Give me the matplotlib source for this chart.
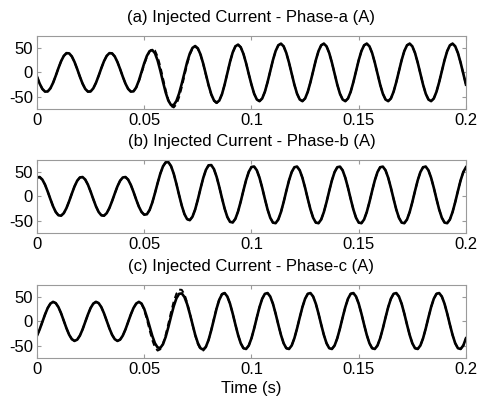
import numpy as np
import matplotlib
matplotlib.use("Agg")
import matplotlib.pyplot as plt

plt.rcParams['font.family'] = ['Liberation Sans', 'DejaVu Sans']

# time grid (s), one sample every 1.25 ms from 0 to 0.2 s
dt = 0.00125
n_samples = 161

# Phase-a injected current (A): measured (solid) and reference (dashed)
ia_meas = [
    -8.7, -23.0, -33.8, -39.4, -39.0, -32.7, -21.4, -6.9, 8.7, 23.0, 33.8, 39.4, 39.0, 32.7, 21.4, 6.9,
    -8.7, -23.0, -33.8, -39.4, -39.0, -32.7, -21.4, -6.9, 8.7, 23.0, 33.8, 39.4, 39.0, 32.7, 21.4, 6.9,
    -8.7, -23.0, -33.8, -39.4, -38.8, -30.8, -16.8, 0.8, 18.8, 33.9, 43.5, 45.8, 39.3, 24.4, 3.8, -19.3,
    -41.1, -57.9, -66.9, -66.9, -58.6, -43.3, -23.1, -0.7, 20.9, 38.6, 50.2, 54.0, 49.3, 36.7, 18.0, -4.0,
    -26.0, -44.7, -57.3, -62.0, -57.7, -44.6, -24.8, -1.5, 21.6, 40.9, 53.4, 56.9, 51.5, 38.0, 18.7, -3.7,
    -25.1, -43.7, -55.5, -58.9, -53.4, -39.7, -20.0, 2.8, 25.1, 43.7, 55.5, 58.9, 53.4, 39.7, 20.0, -2.8,
    -25.1, -43.7, -55.5, -58.9, -53.4, -39.7, -20.0, 2.8, 25.1, 43.7, 55.5, 58.9, 53.4, 39.7, 20.0, -2.8,
    -25.1, -43.7, -55.5, -58.9, -53.4, -39.7, -20.0, 2.8, 25.1, 43.7, 55.5, 58.9, 53.4, 39.7, 20.0, -2.8,
    -25.1, -43.7, -55.5, -58.9, -53.4, -39.7, -20.0, 2.8, 25.1, 43.7, 55.5, 58.9, 53.4, 39.7, 20.0, -2.8,
    -25.1, -43.7, -55.5, -58.9, -53.4, -39.7, -20.0, 2.8, 25.1, 43.7, 55.5, 58.9, 53.4, 39.7, 20.0, -2.8,
    -25.1,
]
ia_ref = [
    -8.7, -23.0, -33.8, -39.4, -39.0, -32.7, -21.4, -6.9, 8.7, 23.0, 33.8, 39.4, 39.0, 32.7, 21.4, 6.9,
    -8.7, -23.0, -33.8, -39.4, -39.0, -32.7, -21.4, -6.9, 8.7, 23.0, 33.8, 39.4, 39.0, 32.7, 21.4, 6.9,
    -8.7, -23.0, -33.8, -39.4, -38.9, -31.5, -18.4, -1.7, 16.0, 31.6, 42.9, 47.9, 44.8, 32.2, 12.1, -12.0,
    -36.1, -56.2, -68.8, -71.8, -65.4, -50.9, -30.3, -6.6, 16.6, 36.0, 48.8, 53.0, 48.3, 35.7, 17.0, -5.0,
    -27.0, -45.7, -58.3, -63.0, -57.7, -44.6, -24.8, -1.5, 21.6, 40.9, 53.4, 56.9, 51.5, 38.0, 18.7, -3.7,
    -25.1, -43.7, -55.5, -58.9, -53.4, -39.7, -20.0, 2.8, 25.1, 43.7, 55.5, 58.9, 53.4, 39.7, 20.0, -2.8,
    -25.1, -43.7, -55.5, -58.9, -53.4, -39.7, -20.0, 2.8, 25.1, 43.7, 55.5, 58.9, 53.4, 39.7, 20.0, -2.8,
    -25.1, -43.7, -55.5, -58.9, -53.4, -39.7, -20.0, 2.8, 25.1, 43.7, 55.5, 58.9, 53.4, 39.7, 20.0, -2.8,
    -25.1, -43.7, -55.5, -58.9, -53.4, -39.7, -20.0, 2.8, 25.1, 43.7, 55.5, 58.9, 53.4, 39.7, 20.0, -2.8,
    -25.1, -43.7, -55.5, -58.9, -53.4, -39.7, -20.0, 2.8, 25.1, 43.7, 55.5, 58.9, 53.4, 39.7, 20.0, -2.8,
    -25.1,
]

# Phase-b injected current (A)
ib_meas = [
    38.7, 39.6, 34.4, 24.0, 9.9, -5.6, -20.4, -32.0, -38.7, -39.6, -34.4, -24.0, -9.9, 5.6, 20.4, 32.0,
    38.7, 39.6, 34.4, 24.0, 9.9, -5.6, -20.4, -32.0, -38.7, -39.6, -34.4, -24.0, -9.9, 5.6, 20.4, 32.0,
    38.7, 39.6, 34.3, 23.5, 9.2, -6.5, -21.0, -31.9, -37.5, -36.6, -28.0, -12.9, 6.5, 27.3, 46.6, 61.5,
    69.7, 70.2, 62.0, 46.5, 25.6, 2.8, -19.0, -36.3, -46.7, -48.7, -41.6, -26.8, -6.5, 16.2, 37.5, 54.2,
    63.6, 64.1, 55.9, 40.1, 19.3, -3.7, -25.3, -42.3, -52.2, -53.4, -45.9, -30.8, -10.4, 12.2, 33.5, 50.4,
    60.2, 60.9, 53.4, 38.1, 17.6, -5.2, -26.8, -43.8, -53.7, -54.9, -47.4, -32.1, -11.6, 11.2, 32.8, 49.8,
    59.7, 60.9, 53.4, 38.1, 17.6, -5.2, -26.8, -43.8, -53.7, -54.9, -47.4, -32.1, -11.6, 11.2, 32.8, 49.8,
    59.7, 60.9, 53.4, 38.1, 17.6, -5.2, -26.8, -43.8, -53.7, -54.9, -47.4, -32.1, -11.6, 11.2, 32.8, 49.8,
    59.7, 60.9, 53.4, 38.1, 17.6, -5.2, -26.8, -43.8, -53.7, -54.9, -47.4, -32.1, -11.6, 11.2, 32.8, 49.8,
    59.7, 60.9, 53.4, 38.1, 17.6, -5.2, -26.8, -43.8, -53.7, -54.9, -47.4, -32.1, -11.6, 11.2, 32.8, 49.8,
    59.7,
]
ib_ref = [
    38.7, 39.6, 34.4, 24.0, 9.9, -5.6, -20.4, -32.0, -38.7, -39.6, -34.4, -24.0, -9.9, 5.6, 20.4, 32.0,
    38.7, 39.6, 34.4, 24.0, 9.9, -5.6, -20.4, -32.0, -38.7, -39.6, -34.4, -24.0, -9.9, 5.6, 20.4, 32.0,
    38.7, 39.6, 34.3, 23.5, 9.2, -6.5, -21.0, -31.9, -37.5, -36.6, -28.0, -12.9, 6.5, 27.3, 46.6, 61.5,
    69.7, 70.2, 62.0, 46.5, 25.6, 2.8, -19.0, -36.3, -46.7, -48.7, -41.6, -26.8, -6.5, 16.2, 37.5, 54.2,
    63.6, 64.1, 55.9, 40.1, 19.3, -3.7, -25.3, -42.3, -52.2, -53.4, -45.9, -30.8, -10.4, 12.2, 33.5, 50.4,
    60.2, 60.9, 53.4, 38.1, 17.6, -5.2, -26.8, -43.8, -53.7, -54.9, -47.4, -32.1, -11.6, 11.2, 32.8, 49.8,
    59.7, 60.9, 53.4, 38.1, 17.6, -5.2, -26.8, -43.8, -53.7, -54.9, -47.4, -32.1, -11.6, 11.2, 32.8, 49.8,
    59.7, 60.9, 53.4, 38.1, 17.6, -5.2, -26.8, -43.8, -53.7, -54.9, -47.4, -32.1, -11.6, 11.2, 32.8, 49.8,
    59.7, 60.9, 53.4, 38.1, 17.6, -5.2, -26.8, -43.8, -53.7, -54.9, -47.4, -32.1, -11.6, 11.2, 32.8, 49.8,
    59.7, 60.9, 53.4, 38.1, 17.6, -5.2, -26.8, -43.8, -53.7, -54.9, -47.4, -32.1, -11.6, 11.2, 32.8, 49.8,
    59.7,
]

# Phase-c injected current (A)
ic_meas = [
    -29.2, -16.5, -1.3, 14.1, 27.4, 36.4, 40.0, 37.4, 29.2, 16.5, 1.3, -14.1, -27.4, -36.4, -40.0, -37.4,
    -29.2, -16.5, -1.3, 14.1, 27.4, 36.4, 40.0, 37.4, 29.2, 16.5, 1.3, -14.1, -27.4, -36.4, -40.0, -37.4,
    -29.2, -16.5, -1.3, 14.1, 27.4, 36.4, 40.0, 36.5, 25.5, 8.8, -10.6, -29.6, -44.8, -53.5, -54.3, -46.7,
    -31.7, -11.7, 10.3, 31.0, 47.2, 56.4, 57.3, 49.9, 35.4, 15.7, -6.1, -27.2, -44.3, -55.0, -57.9, -52.0,
    -38.0, -18.1, 4.6, 26.6, 44.4, 55.4, 58.0, 50.9, 36.2, 16.0, -6.5, -27.8, -44.9, -55.0, -56.5, -49.4,
    -34.6, -14.5, 8.0, 29.3, 46.4, 56.5, 58.0, 50.9, 36.2, 16.0, -6.5, -27.8, -44.9, -55.0, -56.5, -49.4,
    -34.6, -14.5, 8.0, 29.3, 46.4, 56.5, 58.0, 50.9, 36.2, 16.0, -6.5, -27.8, -44.9, -55.0, -56.5, -49.4,
    -34.6, -14.5, 8.0, 29.3, 46.4, 56.5, 58.0, 50.9, 36.2, 16.0, -6.5, -27.8, -44.9, -55.0, -56.5, -49.4,
    -34.6, -14.5, 8.0, 29.3, 46.4, 56.5, 58.0, 50.9, 36.2, 16.0, -6.5, -27.8, -44.9, -55.0, -56.5, -49.4,
    -34.6, -14.5, 8.0, 29.3, 46.4, 56.5, 58.0, 50.9, 36.2, 16.0, -6.5, -27.8, -44.9, -55.0, -56.5, -49.4,
    -34.6,
]
ic_ref = [
    -29.2, -16.5, -1.3, 14.1, 27.4, 36.4, 40.0, 37.4, 29.2, 16.5, 1.3, -14.1, -27.4, -36.4, -40.0, -37.4,
    -29.2, -16.5, -1.3, 14.1, 27.4, 36.4, 40.0, 37.4, 29.2, 16.5, 1.3, -14.1, -27.4, -36.4, -40.0, -37.4,
    -29.2, -16.5, -1.3, 14.1, 27.4, 36.4, 40.0, 35.9, 23.1, 4.0, -17.9, -38.3, -53.2, -59.8, -57.1, -45.8,
    -27.4, -4.7, 19.2, 40.7, 56.7, 65.1, 64.6, 55.4, 38.8, 17.2, -6.5, -28.8, -46.6, -57.4, -59.7, -53.0,
    -38.1, -17.5, 5.8, 28.0, 45.8, 56.4, 58.0, 50.9, 36.2, 16.0, -6.5, -27.8, -44.9, -55.0, -56.5, -49.4,
    -34.6, -14.5, 8.0, 29.3, 46.4, 56.5, 58.0, 50.9, 36.2, 16.0, -6.5, -27.8, -44.9, -55.0, -56.5, -49.4,
    -34.6, -14.5, 8.0, 29.3, 46.4, 56.5, 58.0, 50.9, 36.2, 16.0, -6.5, -27.8, -44.9, -55.0, -56.5, -49.4,
    -34.6, -14.5, 8.0, 29.3, 46.4, 56.5, 58.0, 50.9, 36.2, 16.0, -6.5, -27.8, -44.9, -55.0, -56.5, -49.4,
    -34.6, -14.5, 8.0, 29.3, 46.4, 56.5, 58.0, 50.9, 36.2, 16.0, -6.5, -27.8, -44.9, -55.0, -56.5, -49.4,
    -34.6, -14.5, 8.0, 29.3, 46.4, 56.5, 58.0, 50.9, 36.2, 16.0, -6.5, -27.8, -44.9, -55.0, -56.5, -49.4,
    -34.6,
]

titles = ["(a) Injected Current - Phase-a (A)",
          "(b) Injected Current - Phase-b (A)",
          "(c) Injected Current - Phase-c (A)"]
xticks = [0, 0.05, 0.1, 0.15, 0.2]
xticklabels = ["0", "0.05", "0.1", "0.15", "0.2"]
yticks = [-50, 0, 50]
yticklabels = ["-50", "0", "50"]
xlabel = "Time (s)"

t = np.arange(n_samples) * dt

fig = plt.figure(figsize=(4.79, 3.98), dpi=100)
bottoms = [0.7261, 0.4146, 0.1005]
series = [(ia_meas, ia_ref), (ib_meas, ib_ref), (ic_meas, ic_ref)]
box_color = "#9a9a9a"

for i, (b, (meas, ref), title) in enumerate(zip(bottoms, series, titles)):
    ax = fig.add_axes([0.0772, b, 0.8956, 0.184])
    ax.plot(t, meas, color="black", lw=1.9, solid_joinstyle="round")
    ax.plot(t, ref, color="black", lw=1.4, ls=(0, (3, 2)))
    ax.set_xlim(0, 0.2)
    ax.set_ylim(-75, 75)
    ax.set_xticks(xticks)
    ax.set_xticklabels(xticklabels)
    ax.set_yticks(yticks)
    ax.set_yticklabels(yticklabels)
    ax.tick_params(direction="in", length=3, width=0.8, color=box_color,
                   labelsize=12, top=True, right=True, pad=3,
                   labelcolor="black")
    for sp in ax.spines.values():
        sp.set_color(box_color)
        sp.set_linewidth(0.8)
    ax.set_title(title, fontsize=12, pad=10)
    if i == 2:
        ax.set_xlabel(xlabel, fontsize=12, labelpad=3)

fig.savefig("out.png", dpi=100)
